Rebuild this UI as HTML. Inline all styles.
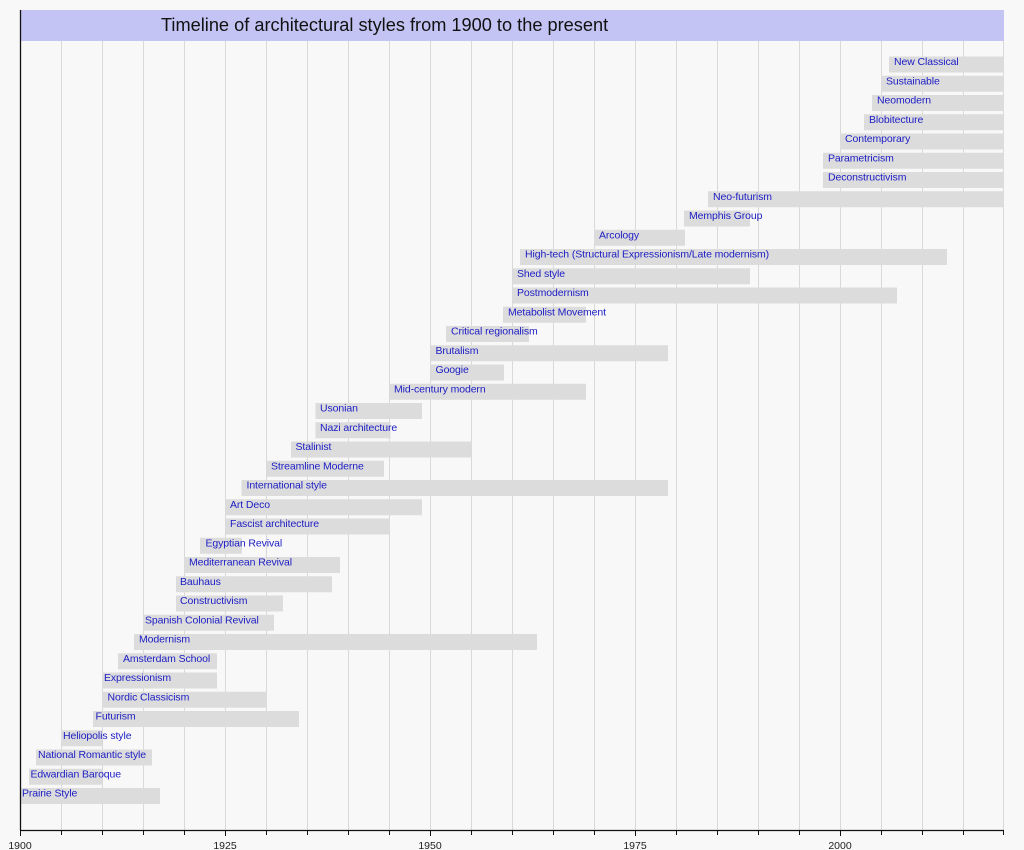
<!DOCTYPE html>
<html>
<head>
<meta charset="utf-8">
<style>
html,body{margin:0;padding:0;background:#f8f8f8;}
svg{display:block;}
.lbl{font-family:"Liberation Sans",Arial,sans-serif;font-size:10.5px;letter-spacing:-0.1px;fill:#1c1cc4;}
.ax{font-family:"Liberation Sans",Arial,sans-serif;font-size:10.5px;fill:#222;}
.title{font-family:"Liberation Sans",Arial,sans-serif;font-size:18.2px;fill:#111;}
</style>
</head>
<body>
<svg width="1024" height="850" viewBox="0 0 1024 850" xmlns="http://www.w3.org/2000/svg">
<rect x="0" y="0" width="1024" height="850" fill="#f8f8f8"/>
<!-- title bar -->
<rect x="20" y="10" width="984" height="31" fill="#c4c4f4"/>
<text class="title" x="161" y="31">Timeline of architectural styles from 1900 to the present</text>
<!-- gridlines -->
<g stroke="#d9d9d9" stroke-width="1">
<line x1="61.5" y1="41" x2="61.5" y2="830"/>
<line x1="102.5" y1="41" x2="102.5" y2="830"/>
<line x1="143.5" y1="41" x2="143.5" y2="830"/>
<line x1="184.5" y1="41" x2="184.5" y2="830"/>
<line x1="225.5" y1="41" x2="225.5" y2="830"/>
<line x1="266.5" y1="41" x2="266.5" y2="830"/>
<line x1="307.5" y1="41" x2="307.5" y2="830"/>
<line x1="348.5" y1="41" x2="348.5" y2="830"/>
<line x1="389.5" y1="41" x2="389.5" y2="830"/>
<line x1="430.5" y1="41" x2="430.5" y2="830"/>
<line x1="471.5" y1="41" x2="471.5" y2="830"/>
<line x1="512.5" y1="41" x2="512.5" y2="830"/>
<line x1="553.5" y1="41" x2="553.5" y2="830"/>
<line x1="594.5" y1="41" x2="594.5" y2="830"/>
<line x1="635.5" y1="41" x2="635.5" y2="830"/>
<line x1="676.5" y1="41" x2="676.5" y2="830"/>
<line x1="717.5" y1="41" x2="717.5" y2="830"/>
<line x1="758.5" y1="41" x2="758.5" y2="830"/>
<line x1="799.5" y1="41" x2="799.5" y2="830"/>
<line x1="840.5" y1="41" x2="840.5" y2="830"/>
<line x1="881.5" y1="41" x2="881.5" y2="830"/>
<line x1="922.5" y1="41" x2="922.5" y2="830"/>
<line x1="963.5" y1="41" x2="963.5" y2="830"/>
<line x1="1003.5" y1="41" x2="1003.5" y2="830"/>
</g>
<!-- bars -->
<g fill="#dcdcdc">
<rect x="20" y="788" width="140" height="16"/>
<rect x="29" y="768.75" width="73" height="16"/>
<rect x="36" y="749.5" width="116" height="16"/>
<rect x="61" y="730.25" width="41" height="16"/>
<rect x="93" y="711" width="206" height="16"/>
<rect x="102" y="691.75" width="165" height="16"/>
<rect x="102" y="672.5" width="115" height="16"/>
<rect x="118" y="653.25" width="99" height="16"/>
<rect x="134" y="634" width="403" height="16"/>
<rect x="143" y="614.75" width="131" height="16"/>
<rect x="176" y="595.5" width="107" height="16"/>
<rect x="176" y="576.25" width="156" height="16"/>
<rect x="184" y="557" width="156" height="16"/>
<rect x="200" y="537.75" width="42" height="16"/>
<rect x="226" y="518.5" width="164" height="16"/>
<rect x="226" y="499.25" width="196" height="16"/>
<rect x="241.5" y="480" width="426.5" height="16"/>
<rect x="266.5" y="460.75" width="117.5" height="16"/>
<rect x="291" y="441.5" width="180.5" height="16"/>
<rect x="315.5" y="422.25" width="75" height="16"/>
<rect x="315.5" y="403" width="106.5" height="16"/>
<rect x="390" y="383.75" width="196" height="16"/>
<rect x="430.5" y="364.5" width="73.5" height="16"/>
<rect x="430.5" y="345.25" width="237.5" height="16"/>
<rect x="446" y="326" width="83" height="16"/>
<rect x="503" y="306.75" width="83" height="16"/>
<rect x="512.5" y="287.5" width="384.5" height="16"/>
<rect x="512.5" y="268.25" width="237.5" height="16"/>
<rect x="520" y="249" width="427" height="16"/>
<rect x="594" y="229.75" width="91" height="16"/>
<rect x="684" y="210.5" width="66" height="16"/>
<rect x="708" y="191.25" width="296" height="16"/>
<rect x="823" y="172" width="181" height="16"/>
<rect x="823" y="152.75" width="181" height="16"/>
<rect x="840" y="133.5" width="164" height="16"/>
<rect x="864" y="114.25" width="140" height="16"/>
<rect x="872" y="95" width="132" height="16"/>
<rect x="881" y="75.75" width="123" height="16"/>
<rect x="889" y="56.5" width="115" height="16"/>
</g>
<!-- labels -->
<g class="lbl" transform="translate(0,-1)">
<text x="22" y="797.5">Prairie Style</text>
<text x="30.5" y="778.25">Edwardian Baroque</text>
<text x="38" y="759">National Romantic style</text>
<text x="63" y="739.75">Heliopolis style</text>
<text x="95.5" y="720.5">Futurism</text>
<text x="107.5" y="701.25">Nordic Classicism</text>
<text x="104" y="682">Expressionism</text>
<text x="123" y="662.75">Amsterdam School</text>
<text x="139" y="643.5">Modernism</text>
<text x="145" y="624.25">Spanish Colonial Revival</text>
<text x="180" y="605">Constructivism</text>
<text x="180" y="585.75">Bauhaus</text>
<text x="189" y="566.5">Mediterranean Revival</text>
<text x="205.5" y="547.25">Egyptian Revival</text>
<text x="230" y="528">Fascist architecture</text>
<text x="230" y="508.75">Art Deco</text>
<text x="246.5" y="489.5">International style</text>
<text x="271" y="470.25">Streamline Moderne</text>
<text x="295.5" y="451">Stalinist</text>
<text x="320" y="431.75">Nazi architecture</text>
<text x="320" y="412.5">Usonian</text>
<text x="394" y="393.25">Mid-century modern</text>
<text x="435.5" y="374">Googie</text>
<text x="435.5" y="354.75">Brutalism</text>
<text x="451" y="335.5">Critical regionalism</text>
<text x="508" y="316.25">Metabolist Movement</text>
<text x="517" y="297">Postmodernism</text>
<text x="517" y="277.75">Shed style</text>
<text x="525" y="258.5">High-tech (Structural Expressionism/Late modernism)</text>
<text x="599" y="239.25">Arcology</text>
<text x="689" y="220">Memphis Group</text>
<text x="713" y="200.75">Neo-futurism</text>
<text x="828" y="181.5">Deconstructivism</text>
<text x="828" y="162.25">Parametricism</text>
<text x="845" y="143">Contemporary</text>
<text x="869" y="123.75">Blobitecture</text>
<text x="877" y="104.5">Neomodern</text>
<text x="886" y="85.25">Sustainable</text>
<text x="894" y="66">New Classical</text>
</g>
<!-- axes -->
<line x1="20.5" y1="10" x2="20.5" y2="830.5" stroke="#111" stroke-width="1.3"/>
<line x1="20" y1="830.5" x2="1004" y2="830.5" stroke="#111" stroke-width="1.3"/>
<g stroke="#111" stroke-width="1">
<line x1="20.5" y1="830" x2="20.5" y2="836"/>
<line x1="61.5" y1="830" x2="61.5" y2="835"/>
<line x1="102.5" y1="830" x2="102.5" y2="835"/>
<line x1="143.5" y1="830" x2="143.5" y2="835"/>
<line x1="184.5" y1="830" x2="184.5" y2="835"/>
<line x1="225.5" y1="830" x2="225.5" y2="836"/>
<line x1="266.5" y1="830" x2="266.5" y2="835"/>
<line x1="307.5" y1="830" x2="307.5" y2="835"/>
<line x1="348.5" y1="830" x2="348.5" y2="835"/>
<line x1="389.5" y1="830" x2="389.5" y2="835"/>
<line x1="430.5" y1="830" x2="430.5" y2="836"/>
<line x1="471.5" y1="830" x2="471.5" y2="835"/>
<line x1="512.5" y1="830" x2="512.5" y2="835"/>
<line x1="553.5" y1="830" x2="553.5" y2="835"/>
<line x1="594.5" y1="830" x2="594.5" y2="835"/>
<line x1="635.5" y1="830" x2="635.5" y2="836"/>
<line x1="676.5" y1="830" x2="676.5" y2="835"/>
<line x1="717.5" y1="830" x2="717.5" y2="835"/>
<line x1="758.5" y1="830" x2="758.5" y2="835"/>
<line x1="799.5" y1="830" x2="799.5" y2="835"/>
<line x1="840.5" y1="830" x2="840.5" y2="836"/>
<line x1="881.5" y1="830" x2="881.5" y2="835"/>
<line x1="922.5" y1="830" x2="922.5" y2="835"/>
<line x1="963.5" y1="830" x2="963.5" y2="835"/>
<line x1="1003.5" y1="830" x2="1003.5" y2="835"/>
</g>
<g class="ax" text-anchor="middle">
<text x="20" y="849">1900</text>
<text x="225" y="849">1925</text>
<text x="430" y="849">1950</text>
<text x="635" y="849">1975</text>
<text x="840" y="849">2000</text>
</g>
</svg>
</body>
</html>
